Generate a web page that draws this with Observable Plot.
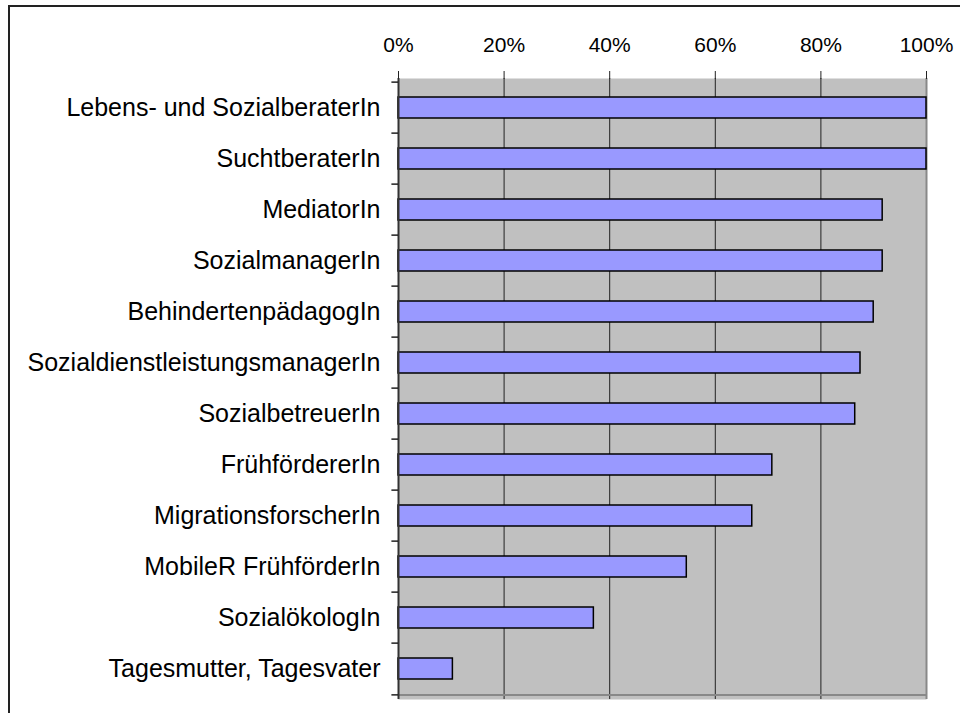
<!DOCTYPE html>
<html>
<head>
<meta charset="utf-8">
<script src="https://cdn.jsdelivr.net/npm/d3@7"></script>
<script src="https://cdn.jsdelivr.net/npm/@observablehq/plot@0.6"></script>
<style>
  html, body { margin: 0; padding: 0; background: #fff; overflow: hidden; }
  #wrap { position: relative; width: 960px; height: 713px; }
  #border { position: absolute; left: 8px; top: 5px; width: 1000px; height: 800px; border: 2px solid #222; box-sizing: border-box; }
  #chart { position: absolute; left: 0; top: 0; }
</style>
</head>
<body>
<div id="wrap"><div id="border"></div><div id="chart"></div></div>
<script>
const categories = [
  "Lebens- und SozialberaterIn",
  "SuchtberaterIn",
  "MediatorIn",
  "SozialmanagerIn",
  "BehindertenpädagogIn",
  "SozialdienstleistungsmanagerIn",
  "SozialbetreuerIn",
  "FrühfördererIn",
  "MigrationsforscherIn",
  "MobileR FrühförderIn",
  "SozialökologIn",
  "Tagesmutter, Tagesvater"
];
const values = [100, 100, 91.7, 91.7, 90, 87.5, 86.5, 70.8, 67, 54.6, 37, 10.3];
const xTicks = [0, 20, 40, 60, 80, 100];
const gridTicks = [20, 40, 60, 80];

const data = categories.map((c, i) => ({c, v: values[i]}));

const W = 960, H = 713, mT = 78, mB = 14, mL = 398, mR = 34;
const step = (H - mT - mB) / categories.length;

const chart = Plot.plot({
  width: W, height: H,
  marginLeft: mL, marginRight: mR, marginTop: mT, marginBottom: mB,
  x: {domain: [0, 100], label: null},
  y: {domain: categories, paddingInner: 0.58, paddingOuter: 0.29, label: null},
  style: {fontFamily: "'Liberation Sans', Arial, sans-serif", background: "transparent", color: "#000"},
  marks: [
    Plot.frame({fill: "#c0c0c0", stroke: "none"}),
    Plot.ruleX(gridTicks, {stroke: "#222", strokeWidth: 1}),
    Plot.ruleX([100], {stroke: "#888", strokeWidth: 2}),
    Plot.ruleY([categories[categories.length - 1]], {x1: 0, x2: 100, dy: step / 2, stroke: "#888", strokeWidth: 2}),
    Plot.barX(data, {x: "v", y: "c", fill: "#9999ff", stroke: "#000", strokeWidth: 1.5}),
    Plot.ruleX([0], {stroke: "#333", strokeWidth: 2}),
    Plot.ruleY(categories, {x1: -1.25, x2: 0, dy: -step / 2, stroke: "#222", strokeWidth: 1.5}),
    Plot.ruleY([categories[categories.length - 1]], {x1: -1.25, x2: 0, dy: step / 2, stroke: "#222", strokeWidth: 1.5}),
    Plot.axisX(xTicks, {anchor: "top", tickSize: 8, tickPadding: 19, tickFormat: d => d + "%", fontSize: 21, stroke: "#222", label: null}),
    Plot.axisY({anchor: "left", tickSize: 0, tickPadding: 18, fontSize: 25, label: null})
  ]
});
document.getElementById("chart").appendChild(chart);
</script>
</body>
</html>
